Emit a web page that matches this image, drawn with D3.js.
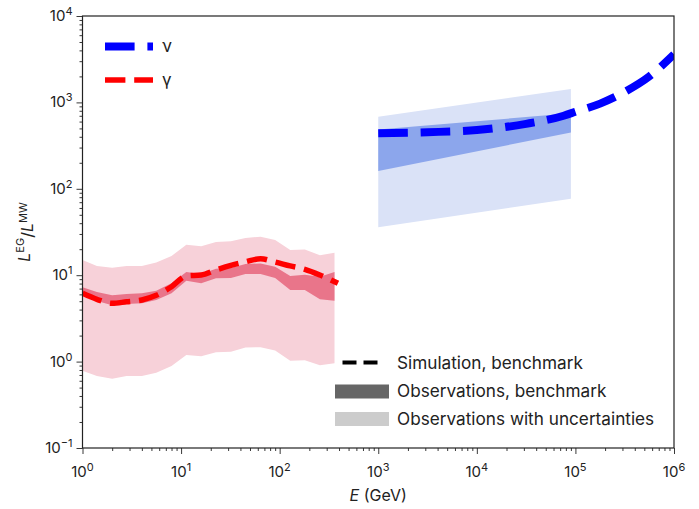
<!DOCTYPE html>
<html>
<head>
<meta charset="utf-8">
<script src="https://cdn.jsdelivr.net/npm/d3@7"></script>
<style>
  body { margin: 0; background: #fff; }
  svg text { font-family: Inter, "Noto Sans", sans-serif; fill: #222; }
</style>
</head>
<body>
<svg id="chart"></svg>
<script>
// gamma-ray: observations (benchmark band + uncertainty band) and simulation
const gammaE     = [1, 1.4, 2, 2.8, 4, 5.6, 8, 11.3, 16, 22.6, 32, 45, 64, 90, 128, 180, 256, 360];
const gammaObsLo = [6.17, 5.03, 4.49, 4.64, 4.73, 5.17, 6.17, 8.64, 8.06, 9.2, 9.3, 10.3, 10.3, 9.3, 6.74, 6.74, 5.26, 5.07];
const gammaObsHi = [7.24, 6.4, 5.85, 6.06, 6.17, 6.62, 8.06, 10.9, 10.3, 11.9, 12.1, 13.5, 13.7, 12.5, 9.8, 10.1, 9.6, 10.9];
const gammaUncLo = [0.785, 0.68, 0.634, 0.68, 0.68, 0.744, 0.89, 1.19, 1.15, 1.28, 1.30, 1.46, 1.47, 1.34, 1.02, 1.04, 0.91, 0.955];
const gammaUncHi = [15.0, 12.8, 12.2, 12.8, 12.8, 14.0, 16.7, 22.5, 21.6, 24.2, 24.7, 27.0, 27.9, 25.5, 19.6, 19.9, 17.0, 18.2];
const gammaSimE  = [1, 1.4, 2, 2.8, 4, 5.6, 8, 11.3, 16, 22.6, 32, 45, 64, 90, 128, 180, 256, 390];
const gammaSim   = [6.17, 5.26, 4.73, 4.93, 5.17, 5.85, 7.36, 9.8, 10.05, 11.5, 13.0, 14.3, 15.5, 14.2, 12.8, 11.7, 10.05, 8.06];

// neutrino
const nuE     = [1e3, 9e4];
const nuObsLo = [161, 447];
const nuObsHi = [487, 748];
const nuUncLo = [35.8, 76.8];
const nuUncHi = [683, 1430];
const nuSimE  = [1e3, 3.16e3, 1e4, 3.16e4, 7.6e4, 1e5, 1.78e5, 3.16e5, 5.62e5, 1e6];
const nuSim   = [440, 452, 478, 565, 701, 778, 968, 1322, 2000, 3600];

const xMajor = [1, 10, 100, 1e3, 1e4, 1e5, 1e6];
const yMajor = [0.1, 1, 10, 100, 1e3, 1e4];

const width = 699, height = 509;
const margin = { top: 16, right: 25, bottom: 61, left: 82.5 };

const svg = d3.select('#chart').attr('width', width).attr('height', height);

const x = d3.scaleLog().domain([1, 1e6]).range([margin.left, width - margin.right]);
const y = d3.scaleLog().domain([0.1, 1e4]).range([height - margin.bottom, margin.top]);

svg.append('clipPath').attr('id', 'plotclip').append('rect')
  .attr('x', margin.left).attr('y', margin.top)
  .attr('width', width - margin.left - margin.right)
  .attr('height', height - margin.top - margin.bottom);

const plot = svg.append('g').attr('clip-path', 'url(#plotclip)');

// bands
function band(es, lo, hi, color) {
  const rows = es.map((e, i) => ({ e: e, lo: lo[i], hi: hi[i] }));
  const area = d3.area().x(d => x(d.e)).y0(d => y(d.lo)).y1(d => y(d.hi));
  plot.append('path').datum(rows).attr('d', area).attr('fill', color).attr('stroke', 'none');
}
band(gammaE, gammaUncLo, gammaUncHi, '#f7d1d9');
band(gammaE, gammaObsLo, gammaObsHi, '#e9758a');
band(nuE, nuUncLo, nuUncHi, '#dae2f7');
band(nuE, nuObsLo, nuObsHi, '#8ca6ec');

// simulation lines
const simLine = d3.line().x(d => x(d[0])).y(d => y(d[1])).curve(d3.curveMonotoneX);
plot.append('path').datum(gammaSimE.map((e, i) => [e, gammaSim[i]]))
  .attr('d', simLine).attr('fill', 'none')
  .attr('stroke', '#ff0000').attr('stroke-width', 5.5).attr('stroke-dasharray', '20.4,8.8');
plot.append('path').datum(nuSimE.map((e, i) => [e, nuSim[i]]))
  .attr('d', simLine).attr('fill', 'none')
  .attr('stroke', '#0000ff').attr('stroke-width', 8).attr('stroke-dasharray', '29.6,12.8');

// axes
function minorTicks(major) {
  const out = [];
  major.slice(0, -1).forEach(m => { for (let k = 2; k < 10; k++) out.push(m * k); });
  return out;
}
function powLabel(sel) {
  sel.each(function(d) {
    const t = d3.select(this).text(null);
    const p = Math.round(Math.log10(d));
    t.append('tspan').text('10');
    t.append('tspan').attr('dy', '-0.55em').attr('font-size', '11px')
      .text(p < 0 ? '\u2212' + (-p) : p);
  });
}

const xg = svg.append('g').attr('transform', `translate(0,${height - margin.bottom})`);
xg.call(d3.axisBottom(x).tickValues(xMajor).tickSize(6).tickPadding(8).tickFormat(''));
xg.append('g').call(d3.axisBottom(x).tickValues(minorTicks(xMajor)).tickSize(3).tickFormat(''));
xg.selectAll('.tick text').remove();
xg.selectAll('.domain').remove();
xg.selectAll('.xlabel').data(xMajor).join('text')
  .attr('x', d => x(d)).attr('y', 29).attr('text-anchor', 'middle')
  .attr('font-size', '15px').call(powLabel);

const yg = svg.append('g').attr('transform', `translate(${margin.left},0)`);
yg.call(d3.axisLeft(y).tickValues(yMajor).tickSize(6).tickFormat(''));
yg.append('g').call(d3.axisLeft(y).tickValues(minorTicks(yMajor)).tickSize(3).tickFormat(''));
yg.selectAll('.domain').remove();
yg.selectAll('.ylabel').data(yMajor).join('text')
  .attr('x', -10).attr('y', d => y(d) + 5).attr('text-anchor', 'end')
  .attr('font-size', '15px').call(powLabel);

svg.selectAll('.tick line').attr('stroke', '#222').attr('stroke-width', 0.9);

// frame
svg.append('rect')
  .attr('x', margin.left).attr('y', margin.top)
  .attr('width', width - margin.left - margin.right)
  .attr('height', height - margin.top - margin.bottom)
  .attr('fill', 'none').attr('stroke', '#222').attr('stroke-width', 1.2);

// axis titles
const xt = svg.append('text').attr('x', (margin.left + width - margin.right) / 2).attr('y', 501)
  .attr('text-anchor', 'middle').attr('font-size', '16px');
xt.append('tspan').attr('font-style', 'italic').text('E');
xt.append('tspan').text(' (GeV)');

const yt = svg.append('text').attr('transform', `translate(30,${(margin.top + height - margin.bottom) / 2}) rotate(-90)`)
  .attr('text-anchor', 'middle').attr('font-size', '16px');
yt.append('tspan').attr('font-style', 'italic').text('L');
yt.append('tspan').attr('dy', '-0.55em').attr('font-size', '11px').text('EG');
yt.append('tspan').attr('dy', '0.55em').text('/');
yt.append('tspan').attr('font-style', 'italic').text('L');
yt.append('tspan').attr('dy', '-0.55em').attr('font-size', '11px').text('MW');

// legend top-left
const leg1 = svg.append('g');
leg1.append('line').attr('x1', 105).attr('x2', 153).attr('y1', 46.5).attr('y2', 46.5)
  .attr('stroke', '#0000ff').attr('stroke-width', 8).attr('stroke-dasharray', '29.6,12.8');
leg1.append('text').attr('x', 162).attr('y', 52).attr('font-size', '17px').text('ν');
leg1.append('line').attr('x1', 105).attr('x2', 153).attr('y1', 80).attr('y2', 80)
  .attr('stroke', '#ff0000').attr('stroke-width', 5.5).attr('stroke-dasharray', '20.4,8.8');
leg1.append('text').attr('x', 162).attr('y', 85.5).attr('font-size', '17px').text('γ');

// legend bottom-right
const leg2 = svg.append('g');
leg2.append('line').attr('x1', 342.5).attr('x2', 378.5).attr('y1', 362.5).attr('y2', 362.5)
  .attr('stroke', '#000').attr('stroke-width', 3.8).attr('stroke-dasharray', '14,7');
leg2.append('rect').attr('x', 335).attr('y', 384.5).attr('width', 54).attr('height', 14).attr('fill', '#666');
leg2.append('rect').attr('x', 335).attr('y', 412).attr('width', 54).attr('height', 14).attr('fill', '#ccc');
const legText = ['Simulation, benchmark', 'Observations, benchmark', 'Observations with uncertainties'];
leg2.selectAll('.lt').data(legText).join('text')
  .attr('x', 397).attr('y', (d, i) => 368.5 + i * 28.3).attr('font-size', '17.2px').text(d => d);
</script>
</body>
</html>
